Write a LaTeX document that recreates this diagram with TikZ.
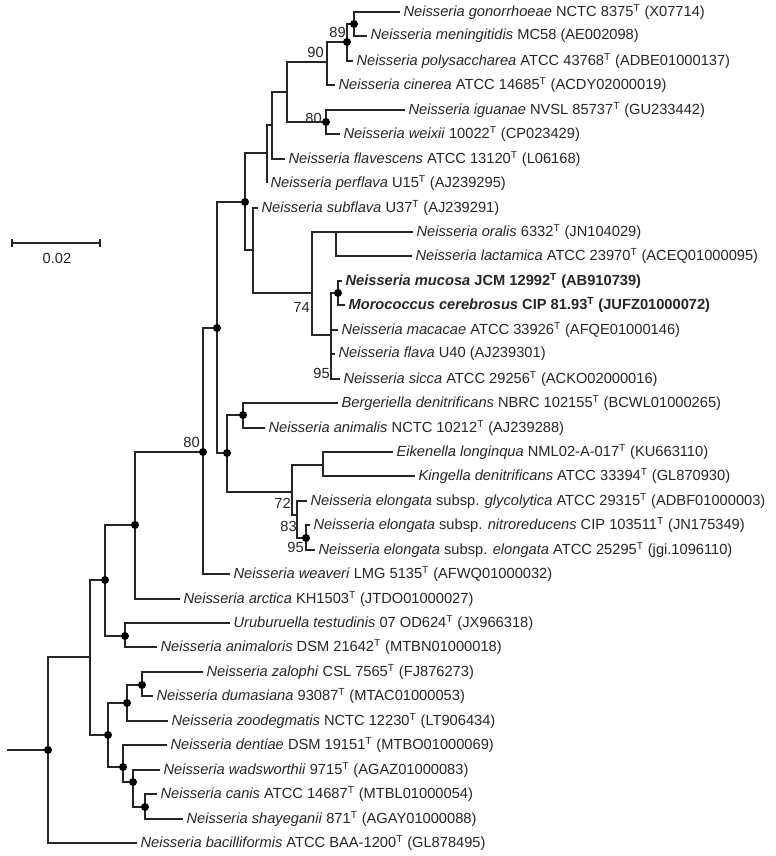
\documentclass[tikz,border=0pt]{standalone}
\usepackage{fontspec}
\setmainfont{Liberation Sans}
\newcommand\Ty{\textsuperscript{T}}
\begin{document}
\begin{tikzpicture}[x=0.75pt,y=-0.75pt,
  br/.style={draw=black!85,line width=0.8pt},
  dot/.style={circle,fill=black,inner sep=0pt,minimum size=6pt},
  leaf/.style={anchor=west,inner sep=0pt,xshift=2.5pt,text=black!85,font=\fontsize{11}{12}\selectfont},
  bs/.style={anchor=east,inner sep=0pt,text=black!85,font=\fontsize{11}{12}\selectfont}]
\useasboundingbox (0,0) rectangle (775,856);
% internal nodes
\coordinate (root) at (48,750); \coordinate (stub) at (7,750);
\coordinate (A) at (90,657); \coordinate (B) at (105,580); \coordinate (C) at (135,525);
\coordinate (D) at (125,636); \coordinate (E) at (203,452); \coordinate (L) at (217,328);
\coordinate (N) at (245,202); \coordinate (W2) at (267,153); \coordinate (W) at (272,125);
\coordinate (X1) at (287,92); \coordinate (X1a) at (327,62); \coordinate (D90) at (347,42);
\coordinate (D89) at (354,24); \coordinate (Ig) at (326,122); \coordinate (Y1) at (253,250);
\coordinate (Z) at (312,293); \coordinate (Z1) at (336,232); \coordinate (Z2) at (331,335);
\coordinate (Z3) at (338,293); \coordinate (P) at (227,453); \coordinate (Q) at (243,415);
\coordinate (R) at (292,492); \coordinate (S) at (323,465); \coordinate (T) at (297,515);
\coordinate (U) at (306,538); \coordinate (F) at (108,735); \coordinate (G) at (127,703);
\coordinate (I) at (142,685); \coordinate (H) at (123,767); \coordinate (J) at (133,782);
\coordinate (K) at (145,807);
% tips
\coordinate (t1) at (400,12); \coordinate (t2) at (367,36); \coordinate (t3) at (353,61);
\coordinate (t4) at (335,85); \coordinate (t5) at (405,110); \coordinate (t6) at (340,134);
\coordinate (t7) at (285,159); \coordinate (t8) at (267,183); \coordinate (t9) at (258,208);
\coordinate (t10) at (413,232); \coordinate (t11) at (412,256); \coordinate (t12) at (342,281);
\coordinate (t13) at (345,305); \coordinate (t14) at (338,330); \coordinate (t15) at (335,354);
\coordinate (t16) at (340,379); \coordinate (t17) at (338,403); \coordinate (t18) at (265,428);
\coordinate (t19) at (393,452); \coordinate (t20) at (415,476); \coordinate (t21) at (307,501);
\coordinate (t22) at (310,525); \coordinate (t23) at (315,550); \coordinate (t24) at (230,574);
\coordinate (t25) at (180,599); \coordinate (t26) at (230,623); \coordinate (t27) at (157,647);
\coordinate (t28) at (203,672); \coordinate (t29) at (153,696); \coordinate (t30) at (168,721);
\coordinate (t31) at (167,745); \coordinate (t32) at (160,770); \coordinate (t33) at (157,794);
\coordinate (t34) at (183,819); \coordinate (t35) at (137,843);
% branches
\draw[br] (stub) -- (root);
\foreach \p/\c in {root/A,root/t35,A/B,A/F,B/C,B/D,C/E,C/t25,D/t26,D/t27,E/L,E/t24,
  L/N,L/P,N/W2,N/Y1,W2/W,W2/t8,W/X1,W/t7,X1/X1a,X1/Ig,X1a/D90,X1a/t4,D90/D89,D90/t3,
  D89/t1,D89/t2,Ig/t5,Ig/t6,Y1/t9,Y1/Z,Z/Z1,Z/Z2,Z1/t10,Z1/t11,Z2/Z3,Z2/t14,Z2/t15,Z2/t16,
  Z3/t12,Z3/t13,P/Q,P/R,Q/t17,Q/t18,R/S,R/T,S/t19,S/t20,T/t21,T/U,U/t22,U/t23,
  F/G,F/H,G/I,G/t30,I/t28,I/t29,H/t31,H/J,J/t32,J/K,K/t33,K/t34}
  {\draw[br] (\p) |- (\c);}
\foreach \d in {root,B,C,D,E,L,N,D90,D89,Ig,Z3,P,Q,U,F,G,I,H,J,K}
  \node[dot] at (\d) {};
% bootstrap
\node[bs] (b89) at (346,32) {89};
\node[bs] (b90) at (324,52) {90};
\node[bs] (b80a) at (322,118) {80};
\node[bs] (b74) at (310,307) {74};
\node[bs] (b95a) at (330,373) {95};
\node[bs] (b80b) at (200,442) {80};
\node[bs] (b72) at (291,503) {72};
\node[bs] (b83) at (297,526) {83};
\node[bs] (b95b) at (304,547) {95};
% scale bar
\coordinate (s1) at (12,243); \coordinate (s2) at (100,243);
\draw[br] (s1) -- (s2);
\draw[br] ([yshift=-3pt]s2) -- ([yshift=3pt]s2);
\draw[br] ([yshift=-3pt]s1) -- ([yshift=3pt]s1);
\node[bs,anchor=center] (sl) at (57,258) {0.02};
% labels
\node[leaf] (n1) at (t1) {\textit{Neisseria gonorrhoeae} NCTC 8375\Ty{} (X07714)};
\node[leaf] (n2) at (t2) {\textit{Neisseria meningitidis} MC58 (AE002098)};
\node[leaf] (n3) at (t3) {\textit{Neisseria polysaccharea} ATCC 43768\Ty{} (ADBE01000137)};
\node[leaf] (n4) at (t4) {\textit{Neisseria cinerea} ATCC 14685\Ty{} (ACDY02000019)};
\node[leaf] (n5) at (t5) {\textit{Neisseria iguanae} NVSL 85737\Ty{} (GU233442)};
\node[leaf] (n6) at (t6) {\textit{Neisseria weixii} 10022\Ty{} (CP023429)};
\node[leaf] (n7) at (t7) {\textit{Neisseria flavescens} ATCC 13120\Ty{} (L06168)};
\node[leaf] (n8) at (t8) {\textit{Neisseria perflava} U15\Ty{} (AJ239295)};
\node[leaf] (n9) at (t9) {\textit{Neisseria subflava} U37\Ty{} (AJ239291)};
\node[leaf] (n10) at (t10) {\textit{Neisseria oralis} 6332\Ty{} (JN104029)};
\node[leaf] (n11) at (t11) {\textit{Neisseria lactamica} ATCC 23970\Ty{} (ACEQ01000095)};
\node[leaf] (n12) at (t12) {\bfseries\textit{Neisseria mucosa} JCM 12992\Ty{} (AB910739)};
\node[leaf] (n13) at (t13) {\bfseries\textit{Morococcus cerebrosus} CIP 81.93\Ty{} (JUFZ01000072)};
\node[leaf] (n14) at (t14) {\textit{Neisseria macacae} ATCC 33926\Ty{} (AFQE01000146)};
\node[leaf] (n15) at (t15) {\textit{Neisseria flava} U40 (AJ239301)};
\node[leaf] (n16) at (t16) {\textit{Neisseria sicca} ATCC 29256\Ty{} (ACKO02000016)};
\node[leaf] (n17) at (t17) {\textit{Bergeriella denitrificans} NBRC 102155\Ty{} (BCWL01000265)};
\node[leaf] (n18) at (t18) {\textit{Neisseria animalis} NCTC 10212\Ty{} (AJ239288)};
\node[leaf] (n19) at (t19) {\textit{Eikenella longinqua} NML02-A-017\Ty{} (KU663110)};
\node[leaf] (n20) at (t20) {\textit{Kingella denitrificans} ATCC 33394\Ty{} (GL870930)};
\node[leaf] (n21) at (t21) {\textit{Neisseria elongata} subsp. \textit{glycolytica} ATCC 29315\Ty{} (ADBF01000003)};
\node[leaf] (n22) at (t22) {\textit{Neisseria elongata} subsp. \textit{nitroreducens} CIP 103511\Ty{} (JN175349)};
\node[leaf] (n23) at (t23) {\textit{Neisseria elongata} subsp. \textit{elongata} ATCC 25295\Ty{} (jgi.1096110)};
\node[leaf] (n24) at (t24) {\textit{Neisseria weaveri} LMG 5135\Ty{} (AFWQ01000032)};
\node[leaf] (n25) at (t25) {\textit{Neisseria arctica} KH1503\Ty{} (JTDO01000027)};
\node[leaf] (n26) at (t26) {\textit{Uruburuella testudinis} 07 OD624\Ty{} (JX966318)};
\node[leaf] (n27) at (t27) {\textit{Neisseria animaloris} DSM 21642\Ty{} (MTBN01000018)};
\node[leaf] (n28) at (t28) {\textit{Neisseria zalophi} CSL 7565\Ty{} (FJ876273)};
\node[leaf] (n29) at (t29) {\textit{Neisseria dumasiana} 93087\Ty{} (MTAC01000053)};
\node[leaf] (n30) at (t30) {\textit{Neisseria zoodegmatis} NCTC 12230\Ty{} (LT906434)};
\node[leaf] (n31) at (t31) {\textit{Neisseria dentiae} DSM 19151\Ty{} (MTBO01000069)};
\node[leaf] (n32) at (t32) {\textit{Neisseria wadsworthii} 9715\Ty{} (AGAZ01000083)};
\node[leaf] (n33) at (t33) {\textit{Neisseria canis} ATCC 14687\Ty{} (MTBL01000054)};
\node[leaf] (n34) at (t34) {\textit{Neisseria shayeganii} 871\Ty{} (AGAY01000088)};
\node[leaf] (n35) at (t35) {\textit{Neisseria bacilliformis} ATCC BAA-1200\Ty{} (GL878495)};
\end{tikzpicture}
\end{document}
